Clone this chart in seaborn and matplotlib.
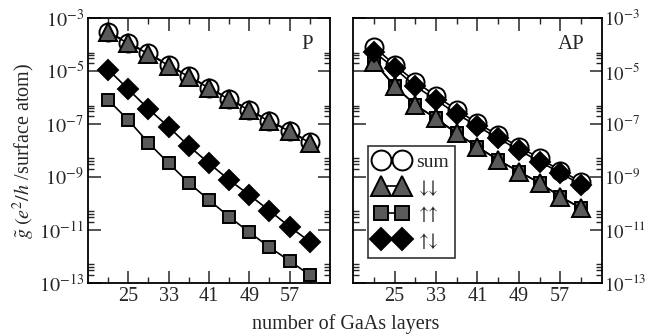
import numpy as np
import pandas as pd
import matplotlib
matplotlib.use("Agg")
import matplotlib.pyplot as plt
import matplotlib.ticker as mticker
import seaborn as sns

# Data (log10 of conductance)
layers = [21, 25, 29, 33, 37, 41, 45, 49, 53, 57, 61]

p_sum = [-3.52, -3.93, -4.33, -4.77, -5.19, -5.62, -6.05, -6.46, -6.88, -7.25, -7.69]
p_dndn = [-3.54, -3.95, -4.35, -4.79, -5.21, -5.64, -6.07, -6.48, -6.90, -7.27, -7.71]
p_upup = [-6.09, -6.85, -7.71, -8.48, -9.22, -9.87, -10.50, -11.09, -11.65, -12.17, -12.70]
p_updn = [-4.94, -5.69, -6.43, -7.11, -7.83, -8.48, -9.11, -9.68, -10.27, -10.88, -11.44]

ap_sum = [-4.08, -4.77, -5.40, -5.94, -6.47, -6.97, -7.42, -7.86, -8.29, -8.76, -9.18]
ap_dndn = [-4.65, -5.57, -6.28, -6.79, -7.35, -7.86, -8.36, -8.80, -9.22, -9.74, -10.18]
ap_upup = [-4.65, -5.57, -6.28, -6.79, -7.35, -7.86, -8.36, -8.80, -9.22, -9.74, -10.18]
ap_updn = [-4.27, -4.90, -5.57, -6.09, -6.62, -7.08, -7.54, -7.98, -8.42, -8.84, -9.30]

labels = ["sum", r"$\downarrow\!\!\!\downarrow$", r"$\uparrow\!\!\!\uparrow$",
          r"$\uparrow\!\!\!\downarrow$"]
major_x = [25, 33, 41, 49, 57]
minor_x = [21, 29, 37, 45, 53, 61]
major_exp = [-3, -5, -7, -9, -11, -13]

sns.set_theme(style="ticks")
plt.rcParams["font.family"] = ["Liberation Serif", "DejaVu Serif"]
plt.rcParams["mathtext.fontset"] = "stix"

styles = [
    dict(marker="o", markersize=13, markerfacecolor="white"),
    dict(marker="^", markersize=13, markerfacecolor="#5a5a5a"),
    dict(marker="s", markersize=9, markerfacecolor="#5a5a5a"),
    dict(marker="D", markersize=10, markerfacecolor="black"),
]

fig = plt.figure(figsize=(6.47, 3.36), dpi=100)
ax1 = fig.add_axes([0.136, 0.158, 0.374, 0.788])
ax2 = fig.add_axes([0.546, 0.158, 0.384, 0.788])

panels = [
    (ax1, [p_sum, p_dndn, p_upup, p_updn], "P"),
    (ax2, [ap_sum, ap_upup, ap_dndn, ap_updn], "AP"),
]

for ax, series, name in panels:
    order = [0, 1, 2, 3] if name == "P" else [0, 2, 1, 3]
    for vals, st, lab in zip(series, [styles[i] for i in order], [labels[i] for i in order]):
        df = pd.DataFrame({"layers": layers, "g": 10.0 ** np.array(vals)})
        sns.lineplot(data=df, x="layers", y="g", ax=ax, color="black",
                     linewidth=1.2, markeredgecolor="black", markeredgewidth=1.4,
                     label=lab, **st)
    ax.set_yscale("log")
    ax.set_xlim(17, 65)
    ax.set_ylim(1e-13, 1e-3)
    ax.set_xlabel("")
    ax.set_ylabel("")
    ax.xaxis.set_major_locator(mticker.FixedLocator(major_x))
    ax.xaxis.set_minor_locator(mticker.FixedLocator(minor_x))
    ax.yaxis.set_major_locator(mticker.FixedLocator([10.0 ** e for e in major_exp]))
    ax.yaxis.set_minor_locator(mticker.FixedLocator(
        [s * 10.0 ** e for e in major_exp[1:] for s in (2, 3, 4, 5)]))
    ax.yaxis.set_minor_formatter(mticker.NullFormatter())
    ax.tick_params(which="both", direction="in", top=True, right=True,
                   labelsize=14.5, pad=3)
    ax.tick_params(which="major", length=9, width=1.1)
    ax.tick_params(which="minor", length=4, width=1.0)
    ax.set_xticklabels([str(v) for v in major_x])
    ax.set_yticklabels([r"$10^{%d}$" % e for e in major_exp])
    for sp in ax.spines.values():
        sp.set_linewidth(1.3)
        sp.set_color("black")
    ax.text(0.93, 0.9, name, transform=ax.transAxes, ha="right", va="center",
            fontsize=15)
    ax.get_legend().remove()

ax2.tick_params(axis="y", which="both", labelleft=False, labelright=True,
                pad=2, labelsize=13.5)

# legend on the AP panel, in sum / down-down / up-up / up-down order
h, l = ax2.get_legend_handles_labels()
lookup = dict(zip(l, h))
leg = ax2.legend([lookup[k] for k in labels], labels, loc="lower left",
                 bbox_to_anchor=(0.06, 0.094), borderaxespad=0, numpoints=2,
                 handlelength=1.7, fontsize=14, frameon=True, fancybox=False,
                 labelspacing=0.35, handletextpad=0.4, borderpad=0.35,
                 markerscale=1.1)
leg.get_frame().set_edgecolor("black")
leg.get_frame().set_linewidth(1.2)

ax1.set_ylabel(r"$\tilde{g}\;(e^{2}/h$ /surface atom)", fontsize=14.5, labelpad=1)
fig.text(0.534, 0.035, "number of GaAs layers", ha="center", va="center",
         fontsize=14.5)

fig.savefig("out.png", dpi=100)
